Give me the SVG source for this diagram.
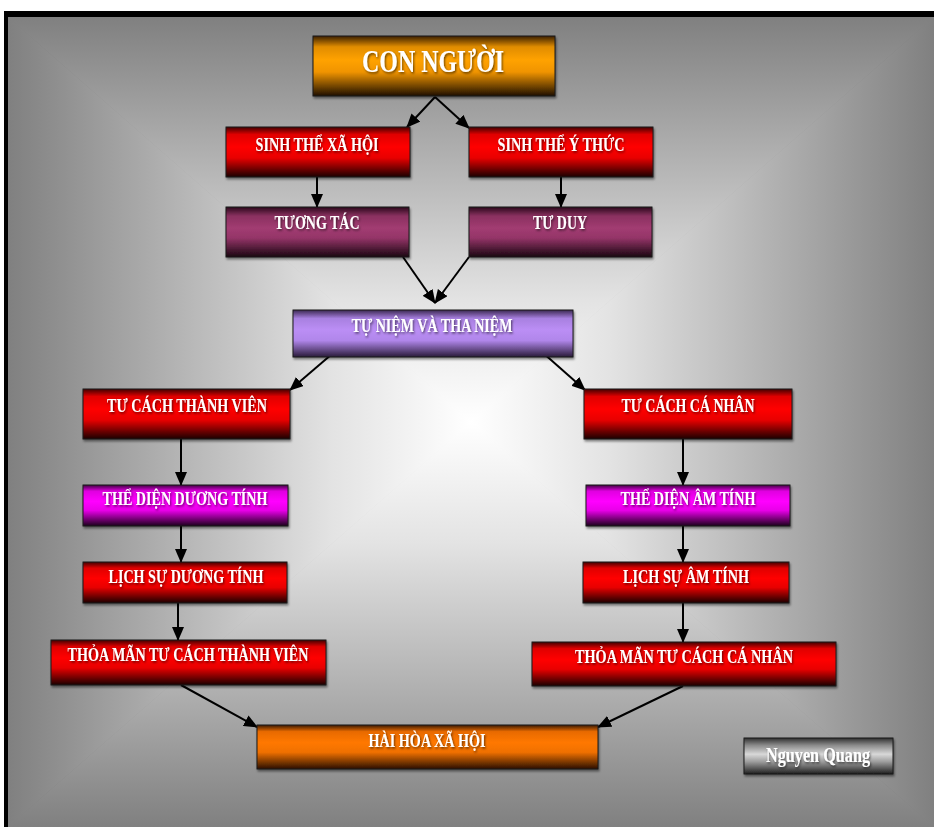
<svg xmlns="http://www.w3.org/2000/svg" width="934" height="827" viewBox="0 0 934 827">
<defs>
<style>
.lbl{font-family:"Liberation Serif","Times New Roman",serif;font-weight:bold;fill:#fff;text-anchor:middle;filter:url(#ts)}
.box{stroke:#1a1a1a;stroke-width:1}
.con{stroke:#000;stroke-width:2;fill:none;marker-end:url(#ah)}
</style>
<filter id="ts" x="-10%" y="-30%" width="120%" height="160%">
<feDropShadow dx="1" dy="1.5" stdDeviation="0.8" flood-color="#000" flood-opacity="0.6"/>
</filter>
<filter id="bs" x="-5%" y="-10%" width="110%" height="130%">
<feDropShadow dx="1" dy="2" stdDeviation="1" flood-color="#000" flood-opacity="0.45"/>
</filter>
<marker id="ah" viewBox="0 0 14 12" refX="13" refY="6" markerWidth="14" markerHeight="12" markerUnits="userSpaceOnUse" orient="auto">
<path d="M0,0 L14,6 L0,12 z" fill="#000"/>
</marker>
<radialGradient id="bgr" cx="471" cy="422" r="560" gradientUnits="userSpaceOnUse">
<stop offset="0" stop-color="#fff"/><stop offset="1" stop-color="#808080"/>
</radialGradient>
<linearGradient id="gT" gradientUnits="userSpaceOnUse" x1="0" y1="422" x2="0" y2="17">
<stop offset="0" stop-color="#fff"/><stop offset="0.3" stop-color="#e3e3e3"/><stop offset="1" stop-color="#808080"/>
</linearGradient>
<linearGradient id="gB" gradientUnits="userSpaceOnUse" x1="0" y1="422" x2="0" y2="827">
<stop offset="0" stop-color="#fff"/><stop offset="0.3" stop-color="#e3e3e3"/><stop offset="1" stop-color="#808080"/>
</linearGradient>
<linearGradient id="gL" gradientUnits="userSpaceOnUse" x1="471" y1="0" x2="8" y2="0">
<stop offset="0" stop-color="#fff"/><stop offset="0.3" stop-color="#e3e3e3"/><stop offset="1" stop-color="#808080"/>
</linearGradient>
<linearGradient id="gR" gradientUnits="userSpaceOnUse" x1="471" y1="0" x2="934" y2="0">
<stop offset="0" stop-color="#fff"/><stop offset="0.3" stop-color="#e3e3e3"/><stop offset="1" stop-color="#808080"/>
</linearGradient>
<linearGradient id="fOrange" x1="0" y1="0" x2="0" y2="1">
<stop offset="0" stop-color="#3a2000"/><stop offset="0.18" stop-color="#e08c00"/><stop offset="0.4" stop-color="#ffa200"/><stop offset="0.6" stop-color="#f09400"/><stop offset="1" stop-color="#1e1000"/>
</linearGradient>
<linearGradient id="fRed" x1="0" y1="0" x2="0" y2="1">
<stop offset="0" stop-color="#400000"/><stop offset="0.15" stop-color="#e00000"/><stop offset="0.4" stop-color="#ff0000"/><stop offset="0.62" stop-color="#e80000"/><stop offset="1" stop-color="#1a0000"/>
</linearGradient>
<linearGradient id="fMaroon" x1="0" y1="0" x2="0" y2="1">
<stop offset="0" stop-color="#2a0a1a"/><stop offset="0.18" stop-color="#8a3060"/><stop offset="0.42" stop-color="#a23c72"/><stop offset="0.62" stop-color="#943568"/><stop offset="1" stop-color="#1a0610"/>
</linearGradient>
<linearGradient id="fLilac" x1="0" y1="0" x2="0" y2="1">
<stop offset="0" stop-color="#3a2850"/><stop offset="0.18" stop-color="#a880e0"/><stop offset="0.42" stop-color="#bb8ef5"/><stop offset="0.65" stop-color="#b086ea"/><stop offset="1" stop-color="#2a1c3a"/>
</linearGradient>
<linearGradient id="fMagenta" x1="0" y1="0" x2="0" y2="1">
<stop offset="0" stop-color="#400040"/><stop offset="0.15" stop-color="#e000e0"/><stop offset="0.4" stop-color="#ff00ff"/><stop offset="0.62" stop-color="#e800e8"/><stop offset="1" stop-color="#1a001a"/>
</linearGradient>
<linearGradient id="fOrange2" x1="0" y1="0" x2="0" y2="1">
<stop offset="0" stop-color="#3a1800"/><stop offset="0.15" stop-color="#e86a00"/><stop offset="0.4" stop-color="#ff7800"/><stop offset="0.62" stop-color="#f07000"/><stop offset="1" stop-color="#2a1000"/>
</linearGradient>
<linearGradient id="fGray" x1="0" y1="0" x2="0" y2="1">
<stop offset="0" stop-color="#303030"/><stop offset="0.2" stop-color="#8a8a8a"/><stop offset="0.45" stop-color="#d8d8d8"/><stop offset="0.65" stop-color="#a0a0a0"/><stop offset="1" stop-color="#202020"/>
</linearGradient>
</defs>

<g id="background">
<rect x="0" y="0" width="934" height="827" fill="#fff"/>
<rect x="8" y="17" width="926" height="810" fill="url(#bgr)"/>
<polygon points="8,17 934,17 471,422" fill="url(#gT)"/>
<polygon points="8,827 934,827 471,422" fill="url(#gB)"/>
<polygon points="8,17 8,827 471,422" fill="url(#gL)"/>
<polygon points="934,17 934,827 471,422" fill="url(#gR)"/>
<rect x="4" y="11" width="930" height="6" fill="#000"/>
<rect x="4" y="11" width="4" height="816" fill="#000"/>
</g>

<g id="connectors">
<line class="con" x1="435" y1="97" x2="407" y2="127"/>
<line class="con" x1="435" y1="97" x2="469" y2="128"/>
<line class="con" x1="317" y1="177" x2="317" y2="207"/>
<line class="con" x1="561" y1="177" x2="561" y2="207"/>
<line class="con" x1="403" y1="257" x2="435" y2="303"/>
<line class="con" x1="469" y1="257" x2="435" y2="303"/>
<line class="con" x1="332" y1="354" x2="290" y2="390"/>
<line class="con" x1="542" y1="352" x2="585" y2="390"/>
<line class="con" x1="181" y1="439" x2="181" y2="485"/>
<line class="con" x1="683" y1="439" x2="683" y2="485"/>
<line class="con" x1="181" y1="526" x2="181" y2="562"/>
<line class="con" x1="683" y1="526" x2="683" y2="562"/>
<line class="con" x1="178" y1="603" x2="178" y2="640"/>
<line class="con" x1="683" y1="603" x2="683" y2="642"/>
<line class="con" x1="181" y1="685" x2="257" y2="727"/>
<line class="con" x1="683" y1="686" x2="598" y2="727"/>
</g>

<g id="n-con-nguoi">
<rect class="box" x="313" y="36" width="242" height="60" fill="url(#fOrange)" filter="url(#bs)"/>
<text class="lbl" x="433" y="72" font-size="32" textLength="142" lengthAdjust="spacingAndGlyphs">CON NGƯỜI</text>
</g>
<g id="n-sinh-the-xa-hoi">
<rect class="box" x="226" y="127" width="184" height="50" fill="url(#fRed)" filter="url(#bs)"/>
<text class="lbl" x="317" y="151" font-size="19" textLength="123" lengthAdjust="spacingAndGlyphs">SINH THỂ XÃ HỘI</text>
</g>
<g id="n-sinh-the-y-thuc">
<rect class="box" x="469" y="127" width="184" height="50" fill="url(#fRed)" filter="url(#bs)"/>
<text class="lbl" x="561" y="151" font-size="19" textLength="127" lengthAdjust="spacingAndGlyphs">SINH THỂ Ý THỨC</text>
</g>
<g id="n-tuong-tac">
<rect class="box" x="226" y="207" width="183" height="50" fill="url(#fMaroon)" filter="url(#bs)"/>
<text class="lbl" x="317" y="229" font-size="19" textLength="85" lengthAdjust="spacingAndGlyphs">TƯƠNG TÁC</text>
</g>
<g id="n-tu-duy">
<rect class="box" x="469" y="207" width="183" height="50" fill="url(#fMaroon)" filter="url(#bs)"/>
<text class="lbl" x="560" y="229" font-size="19" textLength="54" lengthAdjust="spacingAndGlyphs">TƯ DUY</text>
</g>
<g id="n-tu-niem">
<rect class="box" x="293" y="310" width="280" height="47" fill="url(#fLilac)" filter="url(#bs)"/>
<text class="lbl" x="432" y="332" font-size="19" textLength="161" lengthAdjust="spacingAndGlyphs">TỰ NIỆM VÀ THA NIỆM</text>
</g>
<g id="n-tu-cach-thanh-vien">
<rect class="box" x="83" y="389" width="207" height="50" fill="url(#fRed)" filter="url(#bs)"/>
<text class="lbl" x="187" y="412" font-size="19" textLength="160" lengthAdjust="spacingAndGlyphs">TƯ CÁCH THÀNH VIÊN</text>
</g>
<g id="n-tu-cach-ca-nhan">
<rect class="box" x="584" y="389" width="208" height="50" fill="url(#fRed)" filter="url(#bs)"/>
<text class="lbl" x="688" y="412" font-size="19" textLength="133" lengthAdjust="spacingAndGlyphs">TƯ CÁCH CÁ NHÂN</text>
</g>
<g id="n-the-dien-duong-tinh">
<rect class="box" x="83" y="485" width="205" height="41" fill="url(#fMagenta)" filter="url(#bs)"/>
<text class="lbl" x="185" y="505" font-size="19" textLength="165" lengthAdjust="spacingAndGlyphs">THỂ DIỆN DƯƠNG TÍNH</text>
</g>
<g id="n-the-dien-am-tinh">
<rect class="box" x="586" y="485" width="204" height="41" fill="url(#fMagenta)" filter="url(#bs)"/>
<text class="lbl" x="688" y="505" font-size="19" textLength="135" lengthAdjust="spacingAndGlyphs">THỂ DIỆN ÂM TÍNH</text>
</g>
<g id="n-lich-su-duong-tinh">
<rect class="box" x="83" y="562" width="204" height="41" fill="url(#fRed)" filter="url(#bs)"/>
<text class="lbl" x="186" y="583" font-size="19" textLength="155" lengthAdjust="spacingAndGlyphs">LỊCH SỰ DƯƠNG TÍNH</text>
</g>
<g id="n-lich-su-am-tinh">
<rect class="box" x="583" y="562" width="206" height="41" fill="url(#fRed)" filter="url(#bs)"/>
<text class="lbl" x="686" y="583" font-size="19" textLength="126" lengthAdjust="spacingAndGlyphs">LỊCH SỰ ÂM TÍNH</text>
</g>
<g id="n-thoa-man-thanh-vien">
<rect class="box" x="51" y="640" width="275" height="45" fill="url(#fRed)" filter="url(#bs)"/>
<text class="lbl" x="188" y="661" font-size="19" textLength="241" lengthAdjust="spacingAndGlyphs">THỎA MÃN TƯ CÁCH THÀNH VIÊN</text>
</g>
<g id="n-thoa-man-ca-nhan">
<rect class="box" x="532" y="642" width="304" height="44" fill="url(#fRed)" filter="url(#bs)"/>
<text class="lbl" x="684" y="663" font-size="19" textLength="218" lengthAdjust="spacingAndGlyphs">THỎA MÃN TƯ CÁCH CÁ NHÂN</text>
</g>
<g id="n-hai-hoa-xa-hoi">
<rect class="box" x="257" y="725" width="341" height="44" fill="url(#fOrange2)" filter="url(#bs)"/>
<text class="lbl" x="427" y="747" font-size="19" textLength="117" lengthAdjust="spacingAndGlyphs">HÀI HÒA XÃ HỘI</text>
</g>
<g id="n-nguyen-quang">
<rect class="box" x="744" y="738" width="149" height="36" fill="url(#fGray)" filter="url(#bs)"/>
<text class="lbl" x="818" y="762" font-size="21" textLength="104" lengthAdjust="spacingAndGlyphs">Nguyen Quang</text>
</g>
</svg>
